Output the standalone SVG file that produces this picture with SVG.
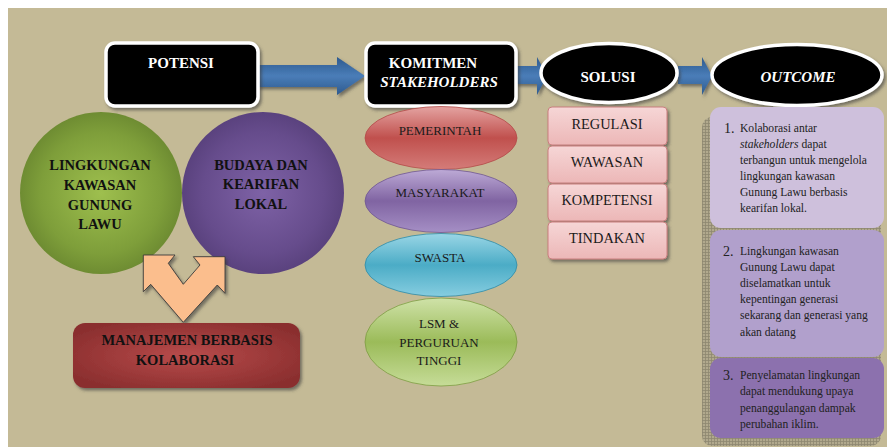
<svg xmlns="http://www.w3.org/2000/svg" width="887" height="447" viewBox="0 0 887 447">
<defs>
<style>
.hd{font-family:"Liberation Serif","Times New Roman",serif;font-weight:bold;fill:#fff;font-size:15px;text-anchor:middle}
.bt{font-family:"Liberation Serif","Times New Roman",serif;font-weight:bold;fill:#111;font-size:14.5px;text-anchor:middle}
.rt{font-family:"Liberation Serif","Times New Roman",serif;fill:#1a1a1a;font-size:13px;text-anchor:middle}
.st{font-family:"Liberation Serif","Times New Roman",serif;fill:#1a1a1a;font-size:14.4px;text-anchor:middle}
.ot{font-family:"Liberation Serif","Times New Roman",serif;fill:#222;font-size:11.6px}
.num{font-family:"Liberation Serif","Times New Roman",serif;fill:#222;font-size:14px}
.blk{fill:#000;stroke:#fff;stroke-width:3.5}
.sol{fill:url(#gPink);stroke:#C97F7F;stroke-width:1}
</style>
<filter id="sh" x="-10%" y="-10%" width="125%" height="130%">
<feDropShadow dx="2" dy="2.5" stdDeviation="1.5" flood-color="#3a3a3a" flood-opacity="0.6"/>
</filter>
<linearGradient id="gBlue" x1="0" y1="0" x2="0" y2="1">
<stop offset="0" stop-color="#2D5A8E"/>
<stop offset="0.5" stop-color="#4A7DB8"/>
<stop offset="1" stop-color="#2D5A8E"/>
</linearGradient>
<radialGradient id="gGreen" cx="0.5" cy="0.5" r="0.5">
<stop offset="0" stop-color="#9EBF4E"/>
<stop offset="0.75" stop-color="#7E9E3A"/>
<stop offset="1" stop-color="#6E8C32"/>
</radialGradient>
<radialGradient id="gPurple" cx="0.5" cy="0.5" r="0.5">
<stop offset="0" stop-color="#7E62A6"/>
<stop offset="0.75" stop-color="#664C8C"/>
<stop offset="1" stop-color="#5A427E"/>
</radialGradient>
<radialGradient id="gRed" cx="0.5" cy="0.5" r="0.6">
<stop offset="0" stop-color="#B84B4B"/>
<stop offset="1" stop-color="#8A2E2E"/>
</radialGradient>
<linearGradient id="gPem" x1="0" y1="0" x2="0" y2="1">
<stop offset="0" stop-color="#E4A3A1"/>
<stop offset="0.5" stop-color="#C0504D"/>
<stop offset="1" stop-color="#D47C79"/>
</linearGradient>
<linearGradient id="gMas" x1="0" y1="0" x2="0" y2="1">
<stop offset="0" stop-color="#BDAAD6"/>
<stop offset="0.5" stop-color="#8064A2"/>
<stop offset="1" stop-color="#A58FC5"/>
</linearGradient>
<linearGradient id="gSwa" x1="0" y1="0" x2="0" y2="1">
<stop offset="0" stop-color="#9AD6E6"/>
<stop offset="0.5" stop-color="#4BACC6"/>
<stop offset="1" stop-color="#86CDE0"/>
</linearGradient>
<linearGradient id="gLsm" x1="0" y1="0" x2="0" y2="1">
<stop offset="0" stop-color="#CFE2A8"/>
<stop offset="0.5" stop-color="#9BBB59"/>
<stop offset="1" stop-color="#C6DC98"/>
</linearGradient>
<linearGradient id="gPink" x1="0" y1="0" x2="0" y2="1">
<stop offset="0" stop-color="#F6D6D6"/>
<stop offset="1" stop-color="#ECB7B7"/>
</linearGradient>
<pattern id="grid" width="3" height="3" patternUnits="userSpaceOnUse">
<rect width="3" height="3" fill="#B1A98D"/>
<path d="M0 0.5H3M0.5 0V3" stroke="#8E8870" stroke-width="0.8"/>
</pattern>
</defs>

<rect x="0" y="0" width="887" height="447" fill="#fff"/>
<rect x="8" y="8" width="879" height="439" fill="#C4BA96"/>

<g id="connectors">
<polygon points="257,65 337,65 337,57 365,76 337,95 337,87 257,87" fill="url(#gBlue)" filter="url(#sh)"/>
<polygon points="515,66 537,66 537,57 547,76 537,95 537,84 515,84" fill="url(#gBlue)" filter="url(#sh)"/>
<polygon points="678,66 702,66 702,57 712,76 702,95 702,84 678,84" fill="url(#gBlue)" filter="url(#sh)"/>
</g>

<g id="potensi">
<rect class="blk" x="106" y="43" width="152" height="63" rx="9" filter="url(#sh)"/>
<text class="hd" x="181" y="68">POTENSI</text>
</g>

<g id="komitmen">
<rect class="blk" x="366" y="43" width="150" height="63" rx="9" filter="url(#sh)"/>
<text class="hd" x="433" y="68">KOMITMEN</text>
<text class="hd" x="439" y="87" font-style="italic">STAKEHOLDERS</text>
</g>

<g id="solusi">
<ellipse class="blk" cx="609" cy="73" rx="68" ry="29.5" filter="url(#sh)"/>
<text class="hd" x="608" y="82">SOLUSI</text>
</g>

<g id="outcome">
<ellipse class="blk" cx="797" cy="75" rx="85" ry="30.5" filter="url(#sh)"/>
<text class="hd" x="798" y="82" font-style="italic">OUTCOME</text>
</g>

<g id="lingkungan">
<circle cx="101" cy="193" r="81" fill="url(#gGreen)"/>
<text class="bt" x="100" y="170">LINGKUNGAN</text>
<text class="bt" x="100" y="190">KAWASAN</text>
<text class="bt" x="100" y="210">GUNUNG</text>
<text class="bt" x="100" y="229">LAWU</text>
</g>

<g id="budaya">
<circle cx="263" cy="193" r="81" fill="url(#gPurple)"/>
<text class="bt" x="261" y="170">BUDAYA DAN</text>
<text class="bt" x="261" y="189">KEARIFAN</text>
<text class="bt" x="261" y="209">LOKAL</text>
</g>

<g id="double-arrow">
<polygon points="143.3,255 175,255 168.3,263.3 183.3,284.3 200,265 193.3,256.7 225,256.7 225,293.3 217.3,285 183.3,322.3 150.7,284.3 143.3,291.7" fill="#FBBE8D" stroke="#3a3a3a" stroke-width="0.9" filter="url(#sh)"/>
</g>

<g id="manajemen">
<rect x="73" y="323" width="227" height="65" rx="12" fill="url(#gRed)" filter="url(#sh)"/>
<text class="bt" x="187" y="345">MANAJEMEN BERBASIS</text>
<text class="bt" x="185" y="365">KOLABORASI</text>
</g>

<g id="pemerintah">
<ellipse cx="441" cy="138" rx="76" ry="31.5" fill="url(#gPem)" stroke="#B24A47" stroke-width="0.8"/>
<text class="rt" x="440" y="135">PEMERINTAH</text>
</g>
<g id="masyarakat">
<ellipse cx="441" cy="201" rx="76" ry="31.5" fill="url(#gMas)" stroke="#6E5590" stroke-width="0.8"/>
<text class="rt" x="440" y="197">MASYARAKAT</text>
</g>
<g id="swasta">
<ellipse cx="441" cy="265" rx="76" ry="31.5" fill="url(#gSwa)" stroke="#2F8AA6" stroke-width="0.8"/>
<text class="rt" x="440" y="262">SWASTA</text>
</g>
<g id="lsm">
<ellipse cx="441" cy="342" rx="76" ry="44" fill="url(#gLsm)" stroke="#7E9A42" stroke-width="0.8"/>
<text class="rt" x="439" y="328">LSM &amp;</text>
<text class="rt" x="439" y="347">PERGURUAN</text>
<text class="rt" x="439" y="365">TINGGI</text>
</g>

<g id="regulasi">
<rect class="sol" x="548" y="107" width="119" height="38" rx="4" filter="url(#sh)"/>
<text class="st" x="607" y="129">REGULASI</text>
</g>
<g id="wawasan">
<rect class="sol" x="548" y="146" width="119" height="37" rx="4" filter="url(#sh)"/>
<text class="st" x="607" y="167">WAWASAN</text>
</g>
<g id="kompetensi">
<rect class="sol" x="548" y="184" width="119" height="37" rx="4" filter="url(#sh)"/>
<text class="st" x="607" y="205">KOMPETENSI</text>
</g>
<g id="tindakan">
<rect class="sol" x="548" y="222" width="119" height="37" rx="4" filter="url(#sh)"/>
<text class="st" x="607" y="243">TINDAKAN</text>
</g>

<rect x="702" y="117" width="179" height="329" rx="10" fill="url(#grid)"/>

<g id="outcome-1">
<rect x="710" y="107" width="174" height="121" rx="11" fill="#CEC0DC"/>
<text class="num" x="724" y="133">1.</text>
<text class="ot" x="740" y="132">Kolaborasi antar</text>
<text class="ot" x="740" y="148"><tspan font-style="italic">stakeholders</tspan> dapat</text>
<text class="ot" x="740" y="164">terbangun untuk mengelola</text>
<text class="ot" x="740" y="180">lingkungan kawasan</text>
<text class="ot" x="740" y="196">Gunung Lawu berbasis</text>
<text class="ot" x="740" y="212">kearifan lokal.</text>
</g>

<g id="outcome-2">
<rect x="710" y="230" width="174" height="127" rx="11" fill="#B1A0CC"/>
<text class="num" x="723" y="256">2.</text>
<text class="ot" x="740" y="255">Lingkungan kawasan</text>
<text class="ot" x="740" y="271">Gunung Lawu dapat</text>
<text class="ot" x="740" y="287">diselamatkan untuk</text>
<text class="ot" x="740" y="303">kepentingan generasi</text>
<text class="ot" x="740" y="319">sekarang dan generasi yang</text>
<text class="ot" x="740" y="336">akan datang</text>
</g>

<g id="outcome-3">
<rect x="710" y="358" width="174" height="80" rx="11" fill="#8C71AE"/>
<text class="num" x="723" y="380">3.</text>
<text class="ot" x="740" y="379">Penyelamatan lingkungan</text>
<text class="ot" x="740" y="395">dapat mendukung upaya</text>
<text class="ot" x="740" y="412">penanggulangan dampak</text>
<text class="ot" x="740" y="428">perubahan iklim.</text>
</g>
</svg>
